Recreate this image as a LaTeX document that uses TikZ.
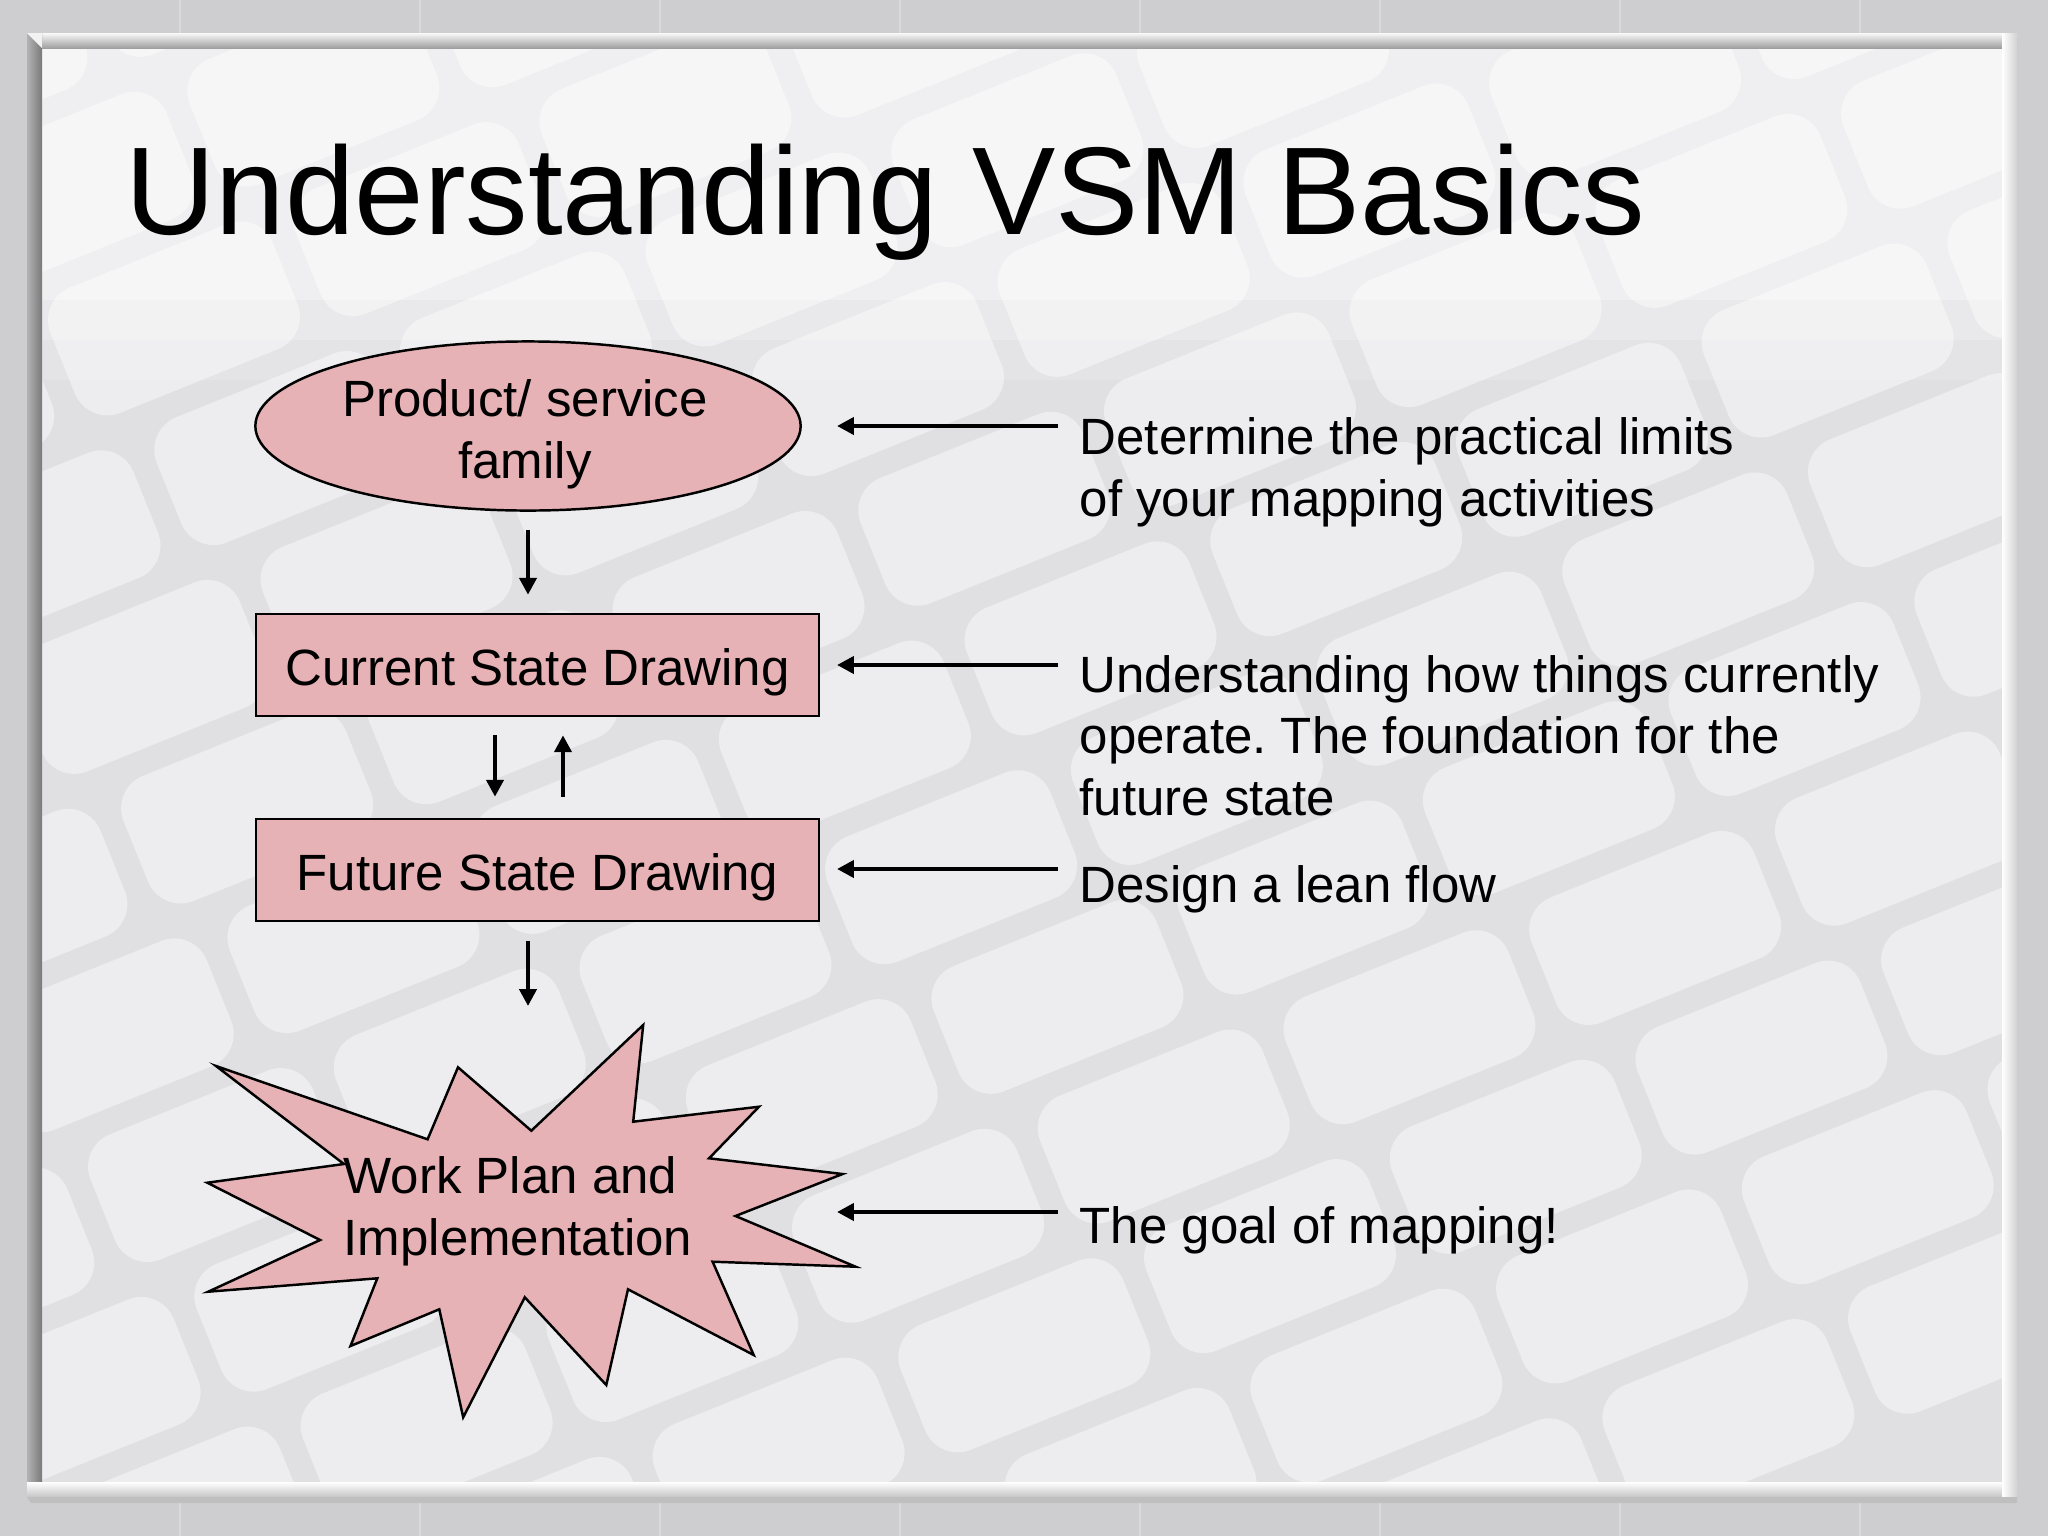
\documentclass[tikz,border=0pt]{standalone}
\usepackage{fontspec}
\setmainfont{Liberation Sans}
\usetikzlibrary{shapes.geometric, arrows.meta, calc}
\definecolor{pinkfill}{RGB}{231,178,181}
\definecolor{outerbg}{RGB}{206,206,209}
\definecolor{innerbg}{RGB}{224,224,227}
\definecolor{keyc}{RGB}{237,237,239}
\begin{document}
\frenchspacing
\begin{tikzpicture}[x=0.01cm, y=-0.01cm,
  body/.style={font=\fontsize{14.5pt}{17.4pt}\selectfont, inner sep=0pt},
  pinkshape/.style={draw=black, line width=0.7pt, fill=pinkfill},
  stepbox/.style={pinkshape, rectangle, minimum width=5.63cm, minimum height=1.02cm,
    inner sep=0pt, text height=0.4cm, text depth=0cm, font=\fontsize{14.5pt}{17.4pt}\selectfont},
  arr/.style={line width=1.2pt, -{Triangle[length=4.8pt,width=4.8pt]}},
]
\useasboundingbox (0,0) rectangle (2048,1536);
% ---------- background ----------
\fill[outerbg] (0,0) rectangle (2048,1536);
\foreach \gx in {180,420,660,900,1140,1380,1620,1860} {\draw[white, opacity=0.25, line width=0.6pt] (\gx,0) -- (\gx,1536);}
\begin{scope}
  \clip (42,48) rectangle (2002,1482);
  \fill[innerbg] (42,48) rectangle (2002,1482);
  \begin{scope}[shift={(250,560)}, rotate=22]
    \foreach \i in {-6,...,8} {
      \foreach \j in {-4,...,8} {
        \fill[keyc, rounded corners=0.35cm] (\i*265+\j*50, \j*160) rectangle ++(240,135);
      }
    }
  \end{scope}
  \fill[white, opacity=0.5] (42,48) rectangle (2002,300);
  \fill[white, opacity=0.3] (42,300) rectangle (2002,340);
  \fill[white, opacity=0.15] (42,340) rectangle (2002,380);
\end{scope}
% ---------- frame ----------
\shade[top color=white!95!gray, bottom color=gray!75] (27,33) rectangle (2017,48);
\shade[left color=gray!60, right color=gray!95!black] (27,33) rectangle (42,1497);
\shade[top color=white, bottom color=gray!45] (27,1482) rectangle (2017,1497);
\shade[left color=white, right color=gray!35] (2002,33) rectangle (2017,1497);
\fill[white!90!gray] (27,33) -- (42,48) -- (42,33) -- cycle;
\fill[gray!50] (27,1497) -- (2017,1497) -- (2017,1503) -- (31,1503) -- cycle;
% ---------- title ----------
\node[anchor=base west, inner sep=0pt, font=\fontsize{35.5pt}{42pt}\selectfont] (title) at (125,234) {Understanding VSM Basics};
% ---------- flow shapes ----------
\node[pinkshape, ellipse, minimum width=5.45cm, minimum height=1.69cm, inner sep=0pt] (prod) at (528,426) {};
\node[body, align=center, anchor=base] (prodtext) at (525,478) {Product/ service\\family};
\node[stepbox] (cur) at (537.5,665) {Current State Drawing};
\node[stepbox] (fut) at (537.5,870) {Future State Drawing};
\draw[pinkshape] (216,1066) -- (427.6,1139.3) -- (458,1067.3) -- (531.3,1130.7) -- (643.2,1025)
  -- (633.2,1121.7) -- (759,1106.7) -- (709.1,1158.3) -- (842.6,1174) -- (735.5,1216)
  -- (855.6,1266.7) -- (712.6,1261.7) -- (753.7,1355) -- (628,1289.3) -- (606.3,1385)
  -- (524.8,1297.3) -- (463.2,1417.3) -- (439.3,1309.3) -- (350.5,1346) -- (377.3,1278.3)
  -- (208.2,1291.7) -- (320.1,1240) -- (207.3,1182.7) -- (343.9,1164) -- cycle;
\node[body, align=left, anchor=base west] (work) at (343,1255) {Work Plan and\\Implementation};
\coordinate (starin) at (528,1006);
% ---------- vertical connectors ----------
\draw[arr, shorten <=0.18cm, shorten >=0.18cm] (prod.south) -- (prod.south |- cur.north);
\draw[arr, shorten <=0.18cm, shorten >=0.21cm] ($(cur.south)+(-42.5,0)$) -- ($(fut.north)+(-42.5,0)$);
\draw[arr, shorten <=0.21cm, shorten >=0.18cm] ($(fut.north)+(25.5,0)$) -- ($(cur.south)+(25.5,0)$);
\draw[arr, shorten <=0.19cm] (fut.south -| starin) -- (starin);
% ---------- right labels ----------
\node[body, align=left, anchor=base west] (l1) at (1079,516) {Determine the practical limits\\of your mapping activities};
\node[body, align=left, anchor=base west] (l2) at (1079,815) {Understanding how things currently\\operate. The foundation for the\\future state};
\node[body, align=left, anchor=base west] (l3) at (1079,902) {Design a lean flow};
\node[body, align=left, anchor=base west] (l4) at (1079,1243) {The goal of mapping!};
\coordinate (s1) at (1058,426); \coordinate (t1) at (837,426);
\coordinate (s2) at (1058,665); \coordinate (t2) at (837,665);
\coordinate (s3) at (1058,869); \coordinate (t3) at (837,869);
\coordinate (s4) at (1058,1212); \coordinate (t4) at (837,1212);
\draw[arr] (s1) -- (t1);
\draw[arr] (s2) -- (t2);
\draw[arr] (s3) -- (t3);
\draw[arr] (s4) -- (t4);
\end{tikzpicture}
\end{document}
